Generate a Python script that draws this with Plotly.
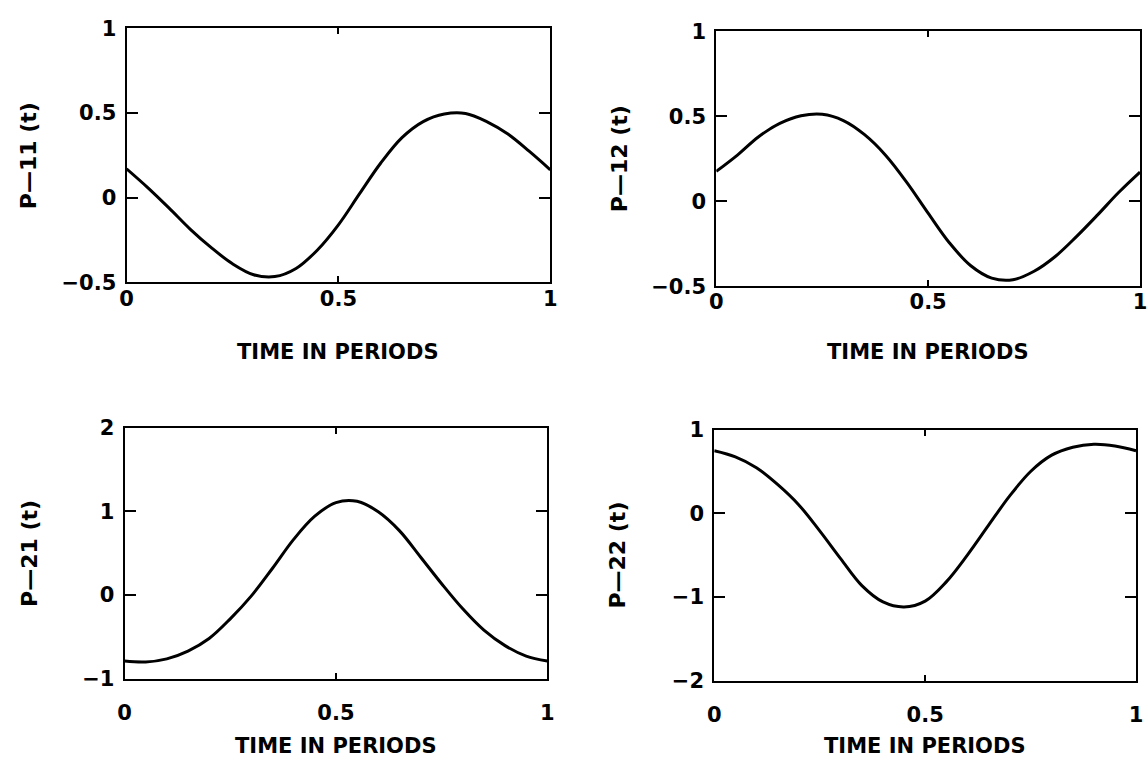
import plotly.graph_objects as go

# ---- data ----
t = [0.00, 0.05, 0.10, 0.15, 0.20, 0.25, 0.30, 0.35, 0.40, 0.45, 0.50,
     0.55, 0.60, 0.65, 0.70, 0.75, 0.80, 0.85, 0.90, 0.95, 1.00]

p11 = [0.171, 0.060, -0.060, -0.185, -0.295, -0.390, -0.455, -0.466, -0.418, -0.310, -0.160,
       0.024, 0.205, 0.355, 0.450, 0.495, 0.498, 0.450, 0.376, 0.275, 0.165]
p12 = [0.176, 0.272, 0.380, 0.458, 0.503, 0.512, 0.475, 0.392, 0.270, 0.110, -0.070,
       -0.244, -0.378, -0.452, -0.462, -0.412, -0.325, -0.208, -0.080, 0.053, 0.172]
p21 = [-0.790, -0.800, -0.763, -0.670, -0.520, -0.285, -0.010, 0.320, 0.665, 0.942, 1.105,
       1.120, 0.995, 0.770, 0.455, 0.135, -0.165, -0.420, -0.605, -0.730, -0.790]
p22 = [0.748, 0.675, 0.545, 0.345, 0.103, -0.210, -0.545, -0.865, -1.060, -1.120, -1.050,
       -0.820, -0.500, -0.145, 0.205, 0.500, 0.695, 0.790, 0.825, 0.805, 0.748]

series = [p11, p12, p21, p22]
y_titles = ["P\u201411 (t)", "P\u201412 (t)", "P\u201421 (t)", "P\u201422 (t)"]
x_title = "TIME IN PERIODS"
x_ticks = [0, 0.5, 1]
x_ticktext = ["0", "0.5", "1"]
y_ranges = [[-0.5, 1], [-0.5, 1], [-1, 2], [-2, 1]]
y_ticks = [[-0.5, 0, 0.5, 1], [-0.5, 0, 0.5, 1], [-1, 0, 1, 2], [-2, -1, 0, 1]]

# ---- layout geometry (paper fractions) ----
W, H = 1148, 774
x_domains = [[121 / W, 550 / W], [718 / W, 1147 / W], [119 / W, 547 / W], [716 / W, 1143 / W]]
y_domains = [[1 - 279 / H, 1 - 17 / H], [1 - 283 / H, 1 - 20 / H],
             [1 - 688 / H, 1 - 429 / H], [1 - 690 / H, 1 - 431 / H]]
ytitle_x = [22 / W, 620 / W, 22 / W, 618 / W]
xtitle_y = [1 - 351 / H, 1 - 351 / H, 1 - 757 / H, 1 - 757 / H]
xlabel_standoff = [-4, -4, 14, 14]

FONT = "DejaVu Sans"
TICK_SIZE = 21
TITLE_SIZE = 21
fig = go.Figure()
annotations = []
for i in range(4):
    n = "" if i == 0 else str(i + 1)
    fig.add_trace(go.Scatter(
        x=t, y=series[i], mode="lines",
        line=dict(color="black", width=3, shape="spline", smoothing=1.0),
        xaxis="x" + n, yaxis="y" + n, showlegend=False, hoverinfo="skip"))
    fig.layout["xaxis" + n] = dict(
        domain=x_domains[i], anchor="y" + n, range=[0, 1],
        tickvals=x_ticks, ticktext=x_ticktext,
        ticks="inside", ticklen=6, tickwidth=2, tickcolor="black",
        showline=True, linecolor="black", linewidth=2, mirror="ticks",
        showgrid=False, zeroline=False, ticklabelstandoff=xlabel_standoff[i],
        tickfont=dict(family=FONT, size=TICK_SIZE, color="black", weight="bold"),
        fixedrange=True)
    fig.layout["yaxis" + n] = dict(
        domain=y_domains[i], anchor="x" + n, range=y_ranges[i],
        tickvals=y_ticks[i],
        ticks="inside", ticklen=11, tickwidth=2, tickcolor="black",
        showline=True, linecolor="black", linewidth=2, mirror="ticks",
        showgrid=False, zeroline=False, ticklabelstandoff=4,
        tickfont=dict(family=FONT, size=TICK_SIZE, color="black", weight="bold"),
        fixedrange=True)
    annotations.append(dict(
        text=x_title, xref="x" + n + " domain", x=0.5, yref="paper", y=xtitle_y[i],
        xanchor="center", yanchor="middle", showarrow=False,
        font=dict(family=FONT, size=TITLE_SIZE, color="black", weight="bold")))
    annotations.append(dict(
        text=y_titles[i], xref="paper", x=ytitle_x[i], yref="y" + n + " domain", y=0.5,
        xanchor="center", yanchor="middle", showarrow=False, textangle=-90,
        font=dict(family=FONT, size=22, color="black", weight="bold")))

fig.update_layout(
    width=W, height=H, margin=dict(l=0, r=0, t=0, b=0),
    paper_bgcolor="white", plot_bgcolor="white",
    annotations=annotations)

fig.write_html("out.html", config={"displayModeBar": False})
